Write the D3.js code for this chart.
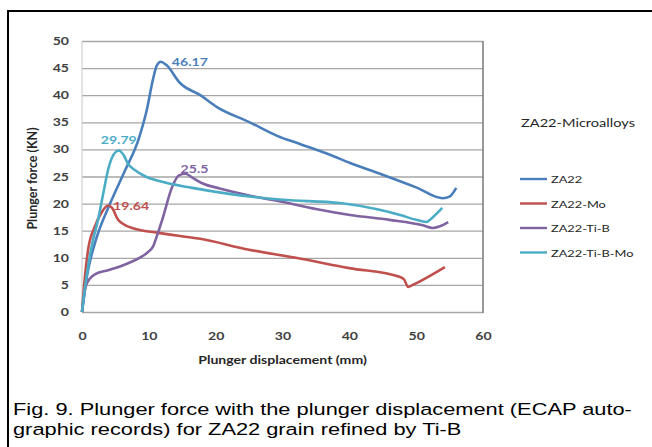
<!DOCTYPE html>
<html>
<head>
<meta charset="utf-8">
<script src="https://cdn.jsdelivr.net/npm/d3@7"></script>
<style>
  body { margin: 0; background: #fff; }
  svg { display: block; }
</style>
</head>
<body>
<div class="chart"></div>
<script>
// series names (legend order)
var seriesNames = ['ZA22', 'ZA22-Mo', 'ZA22-Ti-B', 'ZA22-Ti-B-Mo'];
var seriesColors = ['#4a7ebb', '#c0504d', '#8064a2', '#4bacc6'];

// plunger displacement (mm) / plunger force (KN)
var za22X = [0, 0.8, 2, 4.2, 6.4, 8.5, 9.7, 10.6, 11.2, 11.8, 12.6, 14.7, 17.7, 20.2, 25.1, 29.2, 32.6, 37.1, 40.1, 44.6, 50, 54, 55, 56];
var za22Y = [0, 7, 13, 20, 26, 32, 37.3, 42.8, 45.5, 46.17, 45.6, 42.2, 40, 37.8, 35, 32.5, 31, 29, 27.5, 25.5, 23, 21, 21.3, 22.9];

var moX = [0, 0.4, 0.9, 1.9, 3, 3.9, 4.5, 5.4, 6.5, 7.5, 11.4, 17.7, 25, 32, 40, 47.5, 48.2, 48.8, 49.5, 54.3];
var moY = [0, 6, 11.4, 15.7, 18.5, 19.64, 19.2, 17, 16, 15.5, 14.6, 13.5, 11.5, 10, 8.1, 6.5, 6, 4.6, 5, 8.3];

var tibX = [0, 0.5, 1.2, 2, 3.9, 6.9, 9.9, 10.6, 11.2, 12, 13.5, 14.5, 15.5, 16.5, 17.9, 20.6, 25, 30.1, 35, 40.1, 46, 51, 52.5, 53.5, 54.8];
var tibY = [0, 4.5, 6.2, 7, 7.7, 9, 11.1, 12, 14, 17, 23.1, 25.2, 25.5, 24.8, 23.8, 22.8, 21.5, 20.3, 19, 17.9, 17, 16, 15.5, 15.8, 16.6];

var tibmoX = [0, 0.5, 0.9, 1.6, 2.4, 3.2, 3.9, 4.5, 5.5, 6.2, 6.9, 7.9, 9.5, 11.4, 16.5, 22, 30.1, 38.6, 44, 47.6, 50, 51.5, 52.5, 53.9];
var tibmoY = [0, 5, 8.3, 13, 17, 22, 26.2, 28.5, 29.79, 29, 27.3, 26.2, 25, 24.2, 22.9, 21.8, 20.7, 20.1, 19, 17.9, 17, 16.6, 17.5, 19.2];

// peak labels
var peakLabels = ['46.17', '19.64', '25.5', '29.79'];

var xTicks = [0, 10, 20, 30, 40, 50, 60];
var yTicks = [0, 5, 10, 15, 20, 25, 30, 35, 40, 45, 50];

var captionLines = [
  'Fig. 9. Plunger force with the plunger displacement (ECAP auto-',
  'graphic records) for ZA22 grain refined by Ti-B'
];

var width = 652, height = 447;
var plot = { left: 82, right: 483, top: 41, bottom: 312 };
// the scanned figure is stretched sideways, so the text is too
var stretch = 1.28;

var svg = d3.select('.chart')
  .append('svg')
  .attr('width', width)
  .attr('height', height);

// outer frame (top and left only, as in the scan)
svg.append('path')
  .attr('d', 'M8,' + height + 'V11H' + width)
  .attr('fill', 'none')
  .attr('stroke', '#000')
  .attr('stroke-width', 2);

var x = d3.scaleLinear().domain([0, 60]).range([plot.left, plot.right]);
var y = d3.scaleLinear().domain([0, 50]).range([plot.bottom, plot.top]);

// place a text at (px,py) and stretch it sideways
function wide(sel, px, py, k) {
  sel.attr('transform', 'translate(' + px + ',' + py + ') scale(' + (k || stretch) + ',1)');
  return sel;
}

// gridlines
svg.append('g')
  .attr('transform', 'translate(' + plot.left + ',0)')
  .call(d3.axisLeft(y).tickValues(yTicks).tickSize(-(plot.right - plot.left)).tickFormat(''))
  .call(function (g) {
    g.select('.domain').remove();
    g.selectAll('line').attr('stroke', '#a6a6a6').attr('stroke-width', 1.3);
  });

// plot-area sides
svg.append('line')
  .attr('x1', plot.left).attr('x2', plot.left)
  .attr('y1', plot.top).attr('y2', plot.bottom)
  .attr('stroke', '#c8c8c8').attr('stroke-width', 1);
svg.append('line')
  .attr('x1', plot.right).attr('x2', plot.right)
  .attr('y1', plot.top).attr('y2', plot.bottom + 1)
  .attr('stroke', '#7f7f7f').attr('stroke-width', 1.6);

// tick labels
var tickFont = 'Lato, "Open Sans", sans-serif';
svg.append('g')
  .attr('transform', 'translate(' + (plot.left - 13) + ',0)')
  .call(d3.axisLeft(y).tickValues(yTicks).tickSize(0).tickPadding(0))
  .call(function (g) {
    g.select('.domain').remove();
    g.selectAll('text')
      .attr('font-family', tickFont).attr('font-size', 11).attr('font-weight', 'bold')
      .attr('fill', '#404040')
      .attr('transform', 'scale(' + stretch + ',1)');
  });

svg.append('g')
  .attr('transform', 'translate(0,' + (plot.bottom + 17) + ')')
  .call(d3.axisBottom(x).tickValues(xTicks).tickSize(0))
  .call(function (g) {
    g.select('.domain').remove();
    g.selectAll('text')
      .attr('font-family', tickFont).attr('font-size', 11).attr('font-weight', 'bold')
      .attr('fill', '#404040')
      .attr('transform', 'scale(' + stretch + ',1)');
  });

// axis titles
svg.append('text')
  .attr('transform', 'translate(37,' + ((plot.top + plot.bottom) / 2 + 2) + ') rotate(-90)')
  .attr('text-anchor', 'middle')
  .attr('font-family', tickFont).attr('font-size', 12.5).attr('font-weight', 'bold')
  .attr('fill', '#262626')
  .text('Plunger force (KN)');

wide(svg.append('text'), (plot.left + plot.right) / 2, plot.bottom + 52)
  .attr('text-anchor', 'middle')
  .attr('font-family', tickFont).attr('font-size', 11).attr('font-weight', 'bold')
  .attr('fill', '#262626')
  .text('Plunger displacement (mm)');

// series lines
var allX = [za22X, moX, tibX, tibmoX];
var allY = [za22Y, moY, tibY, tibmoY];
var series = seriesNames.map(function (name, i) {
  return {
    name: name,
    color: seriesColors[i],
    values: allX[i].map(function (v, j) { return { x: v, y: allY[i][j] }; })
  };
});

var line = d3.line()
  .x(function (d) { return x(d.x); })
  .y(function (d) { return y(d.y); })
  .curve(d3.curveMonotoneX);

svg.selectAll('path.series')
  .data(series)
  .enter()
  .append('path')
  .attr('class', 'series')
  .attr('d', function (d) { return line(d.values); })
  .attr('fill', 'none')
  .attr('stroke', function (d) { return d.color; })
  .attr('stroke-width', 2.6)
  .attr('stroke-linejoin', 'round');

// peak value labels
var labelOffsets = [
  { dx: 11, dy: 4, anchor: 'start' },
  { dx: 5, dy: 4, anchor: 'start' },
  { dx: -5, dy: -1, anchor: 'start' },
  { dx: 0, dy: -7, anchor: 'middle' }
];
series.forEach(function (s, i) {
  var peak = d3.greatest(s.values, function (d) { return d.y; });
  wide(svg.append('text'), x(peak.x) + labelOffsets[i].dx, y(peak.y) + labelOffsets[i].dy)
    .attr('text-anchor', labelOffsets[i].anchor)
    .attr('font-family', tickFont).attr('font-size', 11).attr('font-weight', 'bold')
    .attr('fill', s.color)
    .text(peakLabels[i]);
});

// legend
wide(svg.append('text'), 521, 127)
  .attr('font-family', tickFont).attr('font-size', 11.4)
  .attr('fill', '#262626')
  .text('ZA22-Microalloys');

var legend = svg.selectAll('g.legend')
  .data(series)
  .enter()
  .append('g')
  .attr('class', 'legend')
  .attr('transform', function (d, i) { return 'translate(520,' + (179 + i * 24.5) + ')'; });

legend.append('line')
  .attr('x1', 0).attr('x2', 27)
  .attr('stroke', function (d) { return d.color; })
  .attr('stroke-width', 2.4);

legend.append('text')
  .attr('transform', 'translate(31,4) scale(' + stretch + ',1)')
  .attr('font-family', tickFont).attr('font-size', 10)
  .attr('fill', '#262626')
  .text(function (d) { return d.name; });

// caption, stretched so the first line runs to the right edge like the scan
var capSize = 17;
var caps = svg.selectAll('text.caption')
  .data(captionLines)
  .enter()
  .append('text')
  .attr('class', 'caption')
  .attr('font-family', '"Liberation Sans", Arial, sans-serif')
  .attr('font-size', capSize)
  .attr('fill', '#000')
  .text(function (d) { return d; });
var capK = 619 / caps.node().getComputedTextLength();
caps.each(function (d, i) {
  wide(d3.select(this), 13, 415 + i * 19.5, capK);
});
</script>
</body>
</html>
